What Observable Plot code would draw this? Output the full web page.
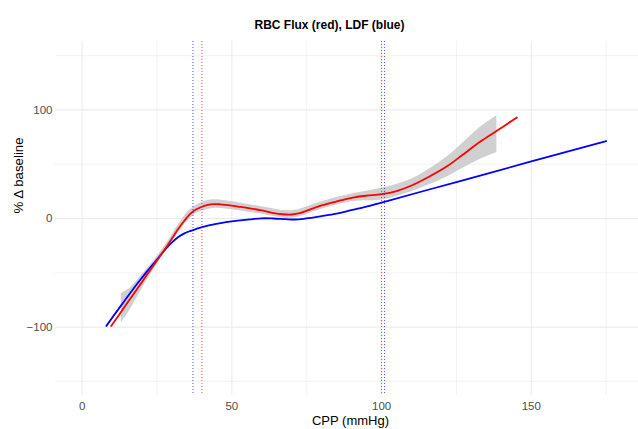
<!DOCTYPE html>
<html><head><meta charset="utf-8">
<script src="https://cdn.jsdelivr.net/npm/d3@7"></script>
<script src="https://cdn.jsdelivr.net/npm/@observablehq/plot@0.6"></script>
<style>
body{margin:0;background:#fff;}
svg{display:block;}
</style>
</head><body><div id="chart"></div>
<script>
const title = "RBC Flux (red), LDF (blue)";
const xLabel = "CPP (mmHg)";
const yLabel = "% Δ baseline";
const xTicks = [0, 50, 100, 150];
const xMinor = [25, 75, 125, 175];
const yTicks = [-100, 0, 100];
const yMinor = [-150, -50, 50, 150];

// LDF (blue) smooth
const ldfX = [8.1, 10, 12, 14, 16, 18, 20, 22, 24, 26, 28, 30, 32, 34, 36, 38, 40, 44, 48, 52, 56, 60, 64, 68, 71, 74, 77, 80, 84, 88, 92, 96, 100, 125, 150, 175];
const ldfY = [-98.9, -91.5, -83.9, -76.4, -68.9, -61.5, -54.5, -47.6, -41, -34.3, -27.8, -22, -17.2, -13.9, -11.6, -9.7, -8, -5.5, -3.4, -2, -0.8, 0.2, 0, -0.6, -0.9, -0.3, 0.9, 2.2, 4.1, 6.4, 9, 11.6, 14.7, 33.6, 52.5, 71.3];

// RBC flux (red) smooth
const rbcX = [9.7, 12, 14, 16, 18, 20, 22, 24, 26, 28, 30, 32, 34, 36, 38, 40, 42, 44, 46, 48, 52, 56, 60, 64, 67, 70, 73, 76, 80, 85, 90, 95, 100, 105, 110, 116, 122, 127, 133, 138.5, 145.2];
const rbcY = [-99, -90, -82, -74.2, -66.2, -58.4, -50.5, -42.6, -34.7, -26.8, -18.5, -10, -2.5, 4, 8.2, 10.8, 12.6, 13.3, 13.1, 12.5, 11, 9.4, 7.4, 5, 3.9, 3.7, 5.2, 8.2, 12, 15.7, 19, 21, 22.4, 25.3, 30.4, 38.7, 48.3, 58.5, 70.9, 80.8, 93];

// RBC confidence band
const bandX = [13.1, 16, 20, 24, 28, 32, 36, 40, 44, 50, 60, 70, 80, 90, 100, 110, 116, 122, 127, 133, 138.5];
const bandLo = [-96, -84.2, -64.9, -46.6, -29.8, -13.5, 0, 6.8, 9.3, 8.1, 3.9, 0.2, 8.5, 15.5, 17, 24.6, 31, 38.5, 46, 54.5, 60.8];
const bandHi = [-69, -64.2, -51.9, -38.6, -23.8, -6.5, 8, 14.8, 17.3, 15.5, 10.9, 7.2, 15.5, 22.5, 27.8, 36.2, 45.5, 57, 69, 84, 94.7];

// threshold markers
const ldfThresholds = [37, 101];
const rbcThresholds = [40, 100];

const ldf = ldfX.map((x, i) => ({x, y: ldfY[i]}));
const rbc = rbcX.map((x, i) => ({x, y: rbcY[i]}));
const band = bandX.map((x, i) => ({x, lo: bandLo[i], hi: bandHi[i]}));

const font = "'Liberation Sans', Arial, Helvetica, sans-serif";
const grid = "#ebebeb";

const plot = Plot.plot({
  width: 638,
  height: 429,
  marginLeft: 55,
  marginRight: 0,
  marginTop: 41,
  marginBottom: 34,
  style: {fontFamily: font, fontSize: "11.5px", color: "#4d4d4d", background: "#fff"},
  x: {domain: [-8.9, 185.8]},
  y: {domain: [-163, 163]},
  marks: [
    Plot.gridX(xMinor, {stroke: grid, strokeOpacity: 1, strokeWidth: 0.6}),
    Plot.gridX(xTicks, {stroke: grid, strokeOpacity: 1, strokeWidth: 1.1}),
    Plot.gridY(yMinor, {stroke: grid, strokeOpacity: 1, strokeWidth: 0.6}),
    Plot.gridY(yTicks, {stroke: grid, strokeOpacity: 1, strokeWidth: 1.1}),
    Plot.axisX({ticks: xTicks, tickSize: 0, tickPadding: 6, label: null, fill: "#4d4d4d"}),
    Plot.axisY({ticks: yTicks, tickSize: 0, tickPadding: 3, label: null, fill: "#4d4d4d"}),
    Plot.areaY(band, {x: "x", y1: "lo", y2: "hi", fill: "#d0d0d0", curve: "catmull-rom"}),
    Plot.line(ldf, {x: "x", y: "y", stroke: "#0000ff", strokeWidth: 1.8, curve: "catmull-rom"}),
    Plot.line(rbc, {x: "x", y: "y", stroke: "#ff0000", strokeWidth: 1.8, curve: "catmull-rom"}),
    Plot.ruleX(ldfThresholds, {stroke: "#0000ff", strokeWidth: 1, strokeDasharray: "1,2", strokeOpacity: 0.7}),
    Plot.ruleX(rbcThresholds, {stroke: "#ff0000", strokeWidth: 1, strokeDasharray: "1,2", strokeOpacity: 0.75}),
    Plot.text([title], {frameAnchor: "top", dx: -17.5, dy: -21, fontWeight: "bold", fontSize: 12, fill: "#000"}),
    Plot.text([xLabel], {frameAnchor: "bottom", dx: 3.5, dy: 29, fontSize: 13, fill: "#000"}),
    Plot.text([yLabel], {frameAnchor: "left", rotate: -90, dx: -37, dy: -5, fontSize: 13.3, fill: "#000"})
  ]
});
document.getElementById("chart").appendChild(plot);
</script>
</body></html>
